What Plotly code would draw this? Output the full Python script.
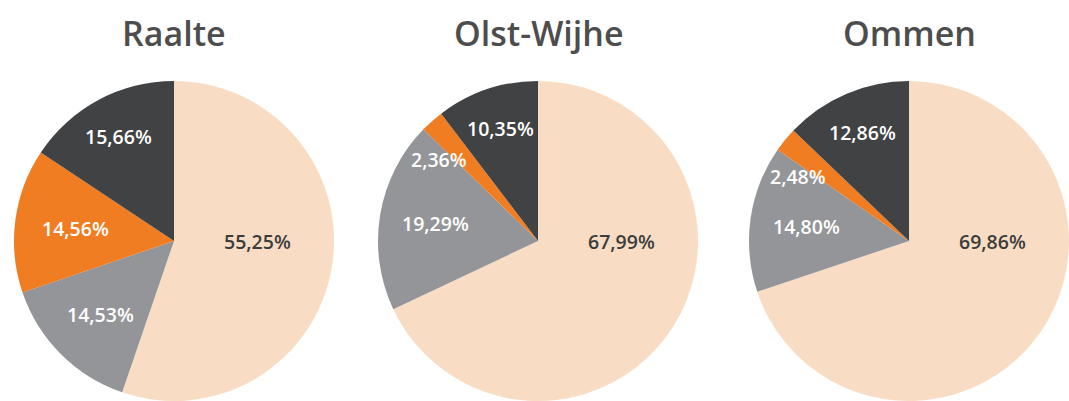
import math
import plotly.graph_objects as go

# ---- data ----
categories = ["Rest", "Grijs", "Oranje", "Donker"]
municipalities = ["Raalte", "Olst-Wijhe", "Ommen"]
raalte = [55.25, 14.53, 14.56, 15.66]
olst_wijhe = [67.99, 19.29, 2.36, 10.35]
ommen = [69.86, 14.80, 2.48, 12.86]
series = [raalte, olst_wijhe, ommen]

# ---- style ----
W, H = 1069, 401
colors = ["#f8ddc4", "#939598", "#f07d22", "#414243"]
text_colors = ["#3c3c3c", "#ffffff", "#ffffff", "#ffffff"]
title_color = "#4d4d4d"
FONT = "Open Sans"
domains_x = [(14, 334), (378, 698), (749, 1069)]   # pixel extents of pies
domain_y = (0, 320)                                  # pixels from bottom
R = 160
label_frac = [0.52, 0.65, 0.62, 0.74]

fig = go.Figure()
annotations = []
for name, vals, (x0, x1) in zip(municipalities, series, domains_x):
    fig.add_trace(go.Pie(
        labels=categories, values=vals, sort=False, direction="clockwise",
        rotation=0, textinfo="none", hoverinfo="skip",
        marker=dict(colors=colors, line=dict(width=0)),
        domain=dict(x=[x0 / W, x1 / W], y=[domain_y[0] / H, domain_y[1] / H]),
        showlegend=False,
    ))
    cx = (x0 + x1) / 2
    cy = H - (domain_y[0] + domain_y[1]) / 2   # from top
    total = sum(vals)
    start = 0.0
    for i, v in enumerate(vals):
        span = 360 * v / total
        mid = start + span / 2
        frac = label_frac[i]
        if i == 0:
            ang = 90.0
        elif v / total < 0.05:
            ang = mid - 9
            frac = 0.8
        else:
            ang = mid
        start += span
        px = cx + frac * R * math.sin(math.radians(ang))
        py = cy - frac * R * math.cos(math.radians(ang))
        annotations.append(dict(
            x=px / W, y=(H - py) / H, xref="paper", yref="paper",
            text=f"{v:.2f}%".replace(".", ","), showarrow=False,
            xanchor="center", yanchor="middle",
            font=dict(family=FONT, size=19.5, color=text_colors[i], weight=600),
        ))
    annotations.append(dict(
        x=cx / W, y=(H - 33) / H, xref="paper", yref="paper", text=name,
        showarrow=False, xanchor="center", yanchor="middle",
        font=dict(family=FONT, size=34, color=title_color, weight=600),
    ))

fig.update_layout(
    width=W, height=H, margin=dict(l=0, r=0, t=0, b=0),
    paper_bgcolor="white", plot_bgcolor="white",
    annotations=annotations,
)
fig.write_html("out.html")
